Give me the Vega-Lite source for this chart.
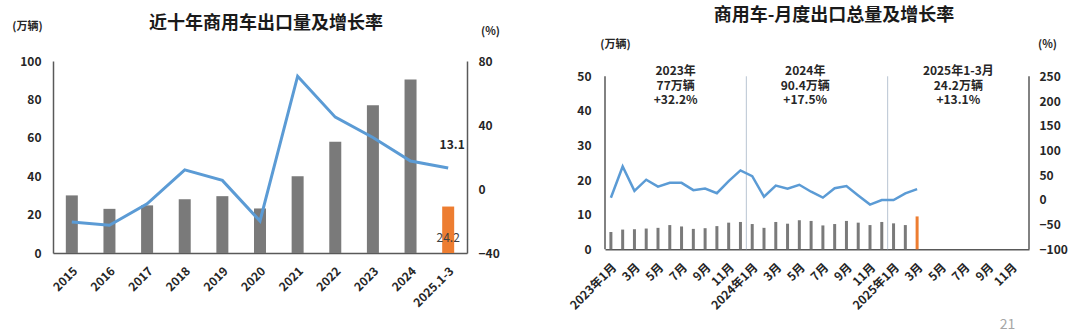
{
  "$schema": "https://vega.github.io/schema/vega-lite/v6.json",
  "padding": {"left": 11, "top": 6, "right": 5, "bottom": 0},
  "spacing": 67,
  "config": {
    "font": "Noto Sans CJK SC",
    "view": {"stroke": null},
    "axis": {
      "domainColor": "#595959", "domainWidth": 1.5, "ticks": false, "grid": false,
      "labelFont": "Noto Sans CJK SC", "labelFontWeight": "bold", "labelFontSize": 12, "labelColor": "#262626",
      "titleFont": "Noto Sans CJK SC", "titleFontWeight": "bold", "titleFontSize": 11, "titleColor": "#262626",
      "labelOverlap": false
    },
    "title": {"font": "Noto Sans CJK SC", "fontSize": 18, "fontWeight": "bold", "color": "#1a1a1a"}
  },
  "hconcat": [
    {
      "width": 414,
      "height": 192,
      "title": {"text": "近十年商用车出口量及增长率", "offset": -12.5, "dx": 6},
      "data": {"values": [
        {"year": "2015", "volume": 30.0, "growth": -20.6, "highlight": false},
        {"year": "2016", "volume": 23.0, "growth": -22.7, "highlight": false},
        {"year": "2017", "volume": 24.8, "growth": -9.3, "highlight": false},
        {"year": "2018", "volume": 28.0, "growth": 12.0, "highlight": false},
        {"year": "2019", "volume": 29.6, "growth": 5.4, "highlight": false},
        {"year": "2020", "volume": 23.2, "growth": -20.0, "highlight": false},
        {"year": "2021", "volume": 40.0, "growth": 70.5, "highlight": false},
        {"year": "2022", "volume": 58.0, "growth": 44.9, "highlight": false},
        {"year": "2023", "volume": 77.0, "growth": 32.2, "highlight": false},
        {"year": "2024", "volume": 90.4, "growth": 17.5, "highlight": false},
        {"year": "2025.1-3", "volume": 24.2, "growth": 13.1, "highlight": true}
      ]},
      "encoding": {
        "x": {
          "field": "year", "type": "ordinal", "sort": null,
          "scale": {"paddingInner": 0, "paddingOuter": 0},
          "axis": {"title": null, "labelAngle": -45, "labelAlign": "right", "labelBaseline": "top", "labelPadding": 12}
        }
      },
      "layer": [
        {
          "layer": [
            {
              "mark": {"type": "bar", "width": 12},
              "encoding": {
                "y": {
                  "field": "volume", "type": "quantitative",
                  "scale": {"domain": [0, 100], "nice": false},
                  "axis": {"values": [0, 20, 40, 60, 80, 100], "labelOverlap": false, "labelPadding": 12, "title": "(万辆)", "titleAngle": 0, "titleX": -26, "titleY": -35, "titleAlign": "center", "titleBaseline": "middle"}
                },
                "color": {"condition": {"test": "datum.highlight", "value": "#ed7d31"}, "value": "#7a7a7a"}
              }
            },
            {
              "transform": [{"filter": "datum.highlight"}],
              "mark": {"type": "text", "baseline": "bottom", "dy": -8, "fontSize": 12, "color": "#404040"},
              "encoding": {
                "y": {
                  "datum": 0, "type": "quantitative",
                  "axis": {"values": [0, 20, 40, 60, 80, 100], "labelOverlap": false, "labelPadding": 12, "title": "(万辆)", "titleAngle": 0, "titleX": -26, "titleY": -35, "titleAlign": "center", "titleBaseline": "middle"}
                },
                "text": {"field": "volume", "type": "quantitative"}
              }
            }
          ]
        },
        {
          "layer": [
            {
              "mark": {"type": "line", "color": "#5b9bd5", "strokeWidth": 3},
              "encoding": {
                "y": {
                  "field": "growth", "type": "quantitative",
                  "scale": {"domain": [-40, 80], "nice": false},
                  "axis": {"orient": "right", "values": [-40, 0, 40, 80], "labelOverlap": false, "labelPadding": 11, "title": "(%)", "titleAngle": 0, "titleX": 23, "titleY": -30, "titleAlign": "center", "titleBaseline": "middle"}
                }
              }
            },
            {
              "transform": [{"filter": "datum.highlight"}],
              "mark": {"type": "text", "dx": 4, "dy": -23, "fontSize": 12, "fontWeight": "bold", "color": "#262626"},
              "encoding": {
                "y": {"field": "growth", "type": "quantitative"},
                "text": {"field": "growth", "type": "quantitative"}
              }
            }
          ]
        }
      ],
      "resolve": {"scale": {"y": "independent"}}
    },
    {
      "width": 424,
      "height": 188.3,
      "title": {"text": "商用车-月度出口总量及增长率", "offset": 13.5, "dx": 17},
      "data": {"values": [
        {"month": "2023-01", "volume": 5.0, "growth": 4.2, "highlight": false},
        {"month": "2023-02", "volume": 5.7, "growth": 67.6, "highlight": false},
        {"month": "2023-03", "volume": 5.8, "growth": 18.3, "highlight": false},
        {"month": "2023-04", "volume": 6.0, "growth": 40.8, "highlight": false},
        {"month": "2023-05", "volume": 6.2, "growth": 26.8, "highlight": false},
        {"month": "2023-06", "volume": 7.0, "growth": 34.5, "highlight": false},
        {"month": "2023-07", "volume": 6.6, "growth": 34.5, "highlight": false},
        {"month": "2023-08", "volume": 5.9, "growth": 19.7, "highlight": false},
        {"month": "2023-09", "volume": 6.1, "growth": 23.0, "highlight": false},
        {"month": "2023-10", "volume": 6.7, "growth": 13.5, "highlight": false},
        {"month": "2023-11", "volume": 7.7, "growth": 38.0, "highlight": false},
        {"month": "2023-12", "volume": 7.9, "growth": 59.6, "highlight": false},
        {"month": "2024-01", "volume": 7.3, "growth": 47.9, "highlight": false},
        {"month": "2024-02", "volume": 6.2, "growth": 6.5, "highlight": false},
        {"month": "2024-03", "volume": 7.9, "growth": 29.0, "highlight": false},
        {"month": "2024-04", "volume": 7.4, "growth": 22.5, "highlight": false},
        {"month": "2024-05", "volume": 8.4, "growth": 30.5, "highlight": false},
        {"month": "2024-06", "volume": 8.2, "growth": 16.5, "highlight": false},
        {"month": "2024-07", "volume": 6.9, "growth": 4.5, "highlight": false},
        {"month": "2024-08", "volume": 7.3, "growth": 23.5, "highlight": false},
        {"month": "2024-09", "volume": 8.2, "growth": 28.0, "highlight": false},
        {"month": "2024-10", "volume": 7.7, "growth": 9.0, "highlight": false},
        {"month": "2024-11", "volume": 7.0, "growth": -9.5, "highlight": false},
        {"month": "2024-12", "volume": 7.9, "growth": -0.5, "highlight": false},
        {"month": "2025-01", "volume": 7.5, "growth": -0.5, "highlight": false},
        {"month": "2025-02", "volume": 7.0, "growth": 13.0, "highlight": false},
        {"month": "2025-03", "volume": 9.5, "growth": 21.8, "highlight": true}
      ]},
      "encoding": {
        "x": {
          "field": "month", "type": "ordinal",
          "scale": {
            "domain": ["2023-01","2023-02","2023-03","2023-04","2023-05","2023-06","2023-07","2023-08","2023-09","2023-10","2023-11","2023-12",
                       "2024-01","2024-02","2024-03","2024-04","2024-05","2024-06","2024-07","2024-08","2024-09","2024-10","2024-11","2024-12",
                       "2025-01","2025-02","2025-03","2025-04","2025-05","2025-06","2025-07","2025-08","2025-09","2025-10","2025-11","2025-12"],
            "paddingInner": 0, "paddingOuter": 0
          },
          "axis": {
            "title": "21",
            "values": ["2023-01","2023-03","2023-05","2023-07","2023-09","2023-11","2024-01","2024-03","2024-05","2024-07","2024-09","2024-11","2025-01","2025-03","2025-05","2025-07","2025-09","2025-11"],
            "labelExpr": "substring(datum.value, 5, 7) == '01' ? substring(datum.value, 0, 4) + '年1月' : toNumber(substring(datum.value, 5, 7)) + '月'",
            "labelAngle": -45, "labelAlign": "right", "labelBaseline": "top", "labelPadding": 12,
            "titleX": 402, "titleY": 75, "titleAlign": "center", "titleBaseline": "middle",
            "titleFontSize": 14, "titleFontWeight": "normal", "titleColor": "#a6a6a6"
          }
        }
      },
      "layer": [
        {
          "layer": [
            {
              "mark": {"type": "bar", "width": 3},
              "encoding": {
                "y": {
                  "field": "volume", "type": "quantitative",
                  "scale": {"domain": [0, 54.42], "nice": false},
                  "axis": {"values": [0, 10, 20, 30, 40, 50], "domain": false, "labelOverlap": false, "labelPadding": 14, "title": "(万辆)", "titleAngle": 0, "titleX": 10, "titleY": -16.7, "titleAlign": "center", "titleBaseline": "middle"}
                },
                "color": {"condition": {"test": "datum.highlight", "value": "#ed7d31"}, "value": "#7a7a7a"}
              }
            },
            {
              "data": {"values": [{"month": "2024-01"}, {"month": "2025-01"}]},
              "mark": {"type": "rule", "color": "#b8c4d2", "strokeWidth": 1},
              "encoding": {
                "x": {"field": "month", "type": "ordinal", "bandPosition": 0},
                "y": {
                  "datum": 0, "type": "quantitative",
                  "axis": {"values": [0, 10, 20, 30, 40, 50], "domain": false, "labelOverlap": false, "labelPadding": 14, "title": "(万辆)", "titleAngle": 0, "titleX": 10, "titleY": -16.7, "titleAlign": "center", "titleBaseline": "middle"}
                },
                "y2": {"datum": 50}
              }
            },
            {
              "data": {"values": [{"side": "left"}]},
              "mark": {"type": "rule", "color": "#595959", "strokeWidth": 1.5},
              "encoding": {
                "x": {"datum": "2023-01", "type": "ordinal", "bandPosition": 0},
                "y": {
                  "datum": 0, "type": "quantitative",
                  "axis": {"values": [0, 10, 20, 30, 40, 50], "domain": false, "labelOverlap": false, "labelPadding": 14, "title": "(万辆)", "titleAngle": 0, "titleX": 10, "titleY": -16.7, "titleAlign": "center", "titleBaseline": "middle"}
                },
                "y2": {"datum": 50}
              }
            },
            {
              "data": {"values": [{"side": "right"}]},
              "mark": {"type": "rule", "color": "#595959", "strokeWidth": 1.5},
              "encoding": {
                "x": {"datum": "2025-12", "type": "ordinal", "bandPosition": 1},
                "y": {
                  "datum": 0, "type": "quantitative",
                  "axis": {"values": [0, 10, 20, 30, 40, 50], "domain": false, "labelOverlap": false, "labelPadding": 14, "title": "(万辆)", "titleAngle": 0, "titleX": 10, "titleY": -16.7, "titleAlign": "center", "titleBaseline": "middle"}
                },
                "y2": {"datum": 50}
              }
            },
            {
              "data": {"values": [
                {"month": "2023-06", "label": "2023年\n77万辆\n+32.2%"},
                {"month": "2024-05", "label": "2024年\n90.4万辆\n+17.5%"},
                {"month": "2025-06", "label": "2025年1-3月\n24.2万辆\n+13.1%"}
              ]},
              "mark": {"type": "text", "lineBreak": "\n", "baseline": "top", "dy": -10, "fontSize": 12, "fontWeight": "bold", "color": "#262626", "lineHeight": 14.5},
              "encoding": {
                "x": {"field": "month", "type": "ordinal", "bandPosition": 1},
                "y": {
                  "datum": 50, "type": "quantitative",
                  "axis": {"values": [0, 10, 20, 30, 40, 50], "domain": false, "labelOverlap": false, "labelPadding": 14, "title": "(万辆)", "titleAngle": 0, "titleX": 10, "titleY": -16.7, "titleAlign": "center", "titleBaseline": "middle"}
                },
                "text": {"field": "label", "type": "nominal"}
              }
            }
          ]
        },
        {
          "layer": [
            {
              "mark": {"type": "line", "color": "#5b9bd5", "strokeWidth": 2.5},
              "encoding": {
                "y": {
                  "field": "growth", "type": "quantitative",
                  "scale": {"domain": [-100, 280.95], "nice": false},
                  "axis": {"orient": "right", "domain": false, "values": [-100, -50, 0, 50, 100, 150, 200, 250], "labelOverlap": false, "labelPadding": 10, "title": "(%)", "titleAngle": 0, "titleX": 18, "titleY": -16.7, "titleAlign": "center", "titleBaseline": "middle"}
                }
              }
            }
          ]
        }
      ],
      "resolve": {"scale": {"y": "independent"}}
    }
  ]
}
